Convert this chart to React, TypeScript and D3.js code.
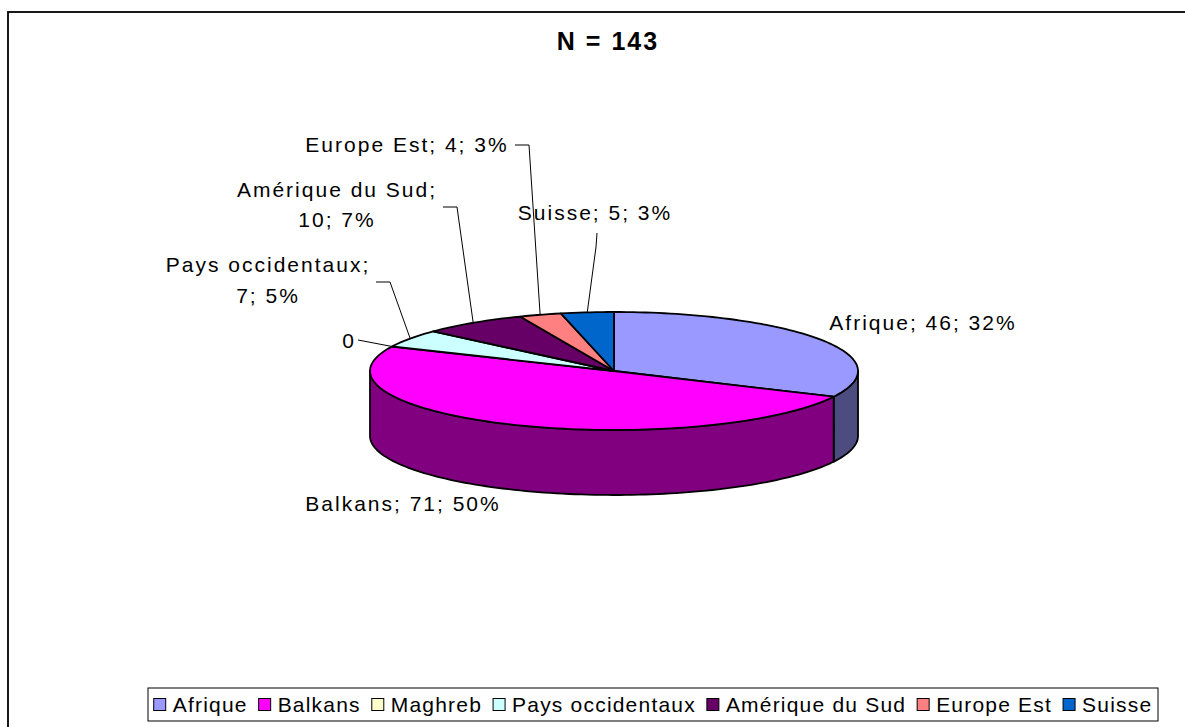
import { useEffect, useRef } from 'react';
import * as d3 from 'd3';

const categories = ['Afrique', 'Balkans', 'Maghreb', 'Pays occidentaux', 'Amérique du Sud', 'Europe Est', 'Suisse'];
const counts = [46, 71, 0, 7, 10, 4, 5];
const topColors = ['#9999FF', '#FF00FF', '#FFFFCC', '#CCFFFF', '#660066', '#FF8080', '#0066CC'];
const sideColors = ['#4C4C80', '#800080', '#808066', '#668080', '#330033', '#804040', '#003366'];
const title = 'N = 143';

// label placement (text centre, baselines, leader elbow)
const labelLayout = [
  { x: 923, y: [330], leader: null },
  { x: 403, y: [511], leader: null },
  { x: 349, y: [348], valueOnly: true, leader: [[358, 340]] },
  { x: 268, y: [272, 303], leader: [[376, 282], [390, 282]] },
  { x: 337, y: [197, 227], leader: [[443, 207], [457, 207]] },
  { x: 407, y: [152], leader: [[515, 145], [529, 145]] },
  { x: 595, y: [220], leader: [[597, 233], [596, 247]] },
];

const FONT = '"Liberation Sans", Arial, sans-serif';

export default function App() {
  const ref = useRef<SVGSVGElement>(null);

  useEffect(() => {
    if (!ref.current) return;
    const svg = d3.select(ref.current);
    svg.selectAll('*').remove();

    const total = d3.sum(counts);
    const cx = 614, cy = 371, rx = 244, ry = 59, depth = 65;
    const pt = (a: number, dy = 0): [number, number] => [cx + rx * Math.sin(a), cy - ry * Math.cos(a) + dy];
    const arcPts = (a0: number, a1: number, dy = 0) => {
      const n = Math.max(2, Math.ceil(((a1 - a0) / (Math.PI * 2)) * 240));
      return d3.range(n + 1).map(i => pt(a0 + ((a1 - a0) * i) / n, dy));
    };
    const line = d3.line();

    // outer frame
    svg.append('rect')
      .attr('x', 8).attr('y', 12).attr('width', 1200).attr('height', 740)
      .attr('fill', '#fff').attr('stroke', '#000').attr('stroke-width', 1.8);

    svg.append('text')
      .attr('x', 608).attr('y', 50)
      .attr('text-anchor', 'middle')
      .attr('font-family', FONT).attr('font-size', 25).attr('font-weight', 'bold')
      .attr('letter-spacing', 2)
      .text(title);

    const slices = d3.pie<number>().sort(null).value(d => d)(counts);

    // side walls (front half only)
    const g = svg.append('g').attr('stroke', '#000').attr('stroke-width', 1.8).attr('stroke-linejoin', 'round');
    slices.forEach((s, i) => {
      const a = Math.max(s.startAngle, Math.PI / 2);
      const b = Math.min(s.endAngle, (3 * Math.PI) / 2);
      if (a >= b) return;
      const pts = [...arcPts(a, b), ...arcPts(a, b, depth).reverse()];
      g.append('path').attr('d', line(pts) + 'Z').attr('fill', sideColors[i]);
    });

    // top faces
    slices.forEach((s, i) => {
      if (s.endAngle - s.startAngle <= 0) return;
      const pts: [number, number][] = [[cx, cy], ...arcPts(s.startAngle, s.endAngle)];
      g.append('path').attr('d', line(pts) + 'Z').attr('fill', topColors[i]);
    });

    // data labels
    const lg = svg.append('g').attr('font-family', FONT).attr('font-size', 21).attr('letter-spacing', 2).attr('fill', '#000');
    slices.forEach((s, i) => {
      const lay = labelLayout[i];
      const pct = Math.round((counts[i] / total) * 100) + '%';
      const lines = lay.valueOnly
        ? [String(counts[i])]
        : lay.y.length > 1
          ? [`${categories[i]};`, `${counts[i]}; ${pct}`]
          : [`${categories[i]}; ${counts[i]}; ${pct}`];
      lines.forEach((t, k) => {
        lg.append('text').attr('x', lay.x).attr('y', lay.y[k]).attr('text-anchor', 'middle').text(t);
      });
      if (lay.leader) {
        const mid = (s.startAngle + s.endAngle) / 2;
        const end = pt(mid);
        svg.append('path')
          .attr('d', line([...(lay.leader as [number, number][]), end]))
          .attr('fill', 'none').attr('stroke', '#000').attr('stroke-width', 1);
      }
    });

    // legend
    const box = { x: 148, y: 688, w: 1010, h: 33 };
    svg.append('rect')
      .attr('x', box.x).attr('y', box.y).attr('width', box.w).attr('height', box.h)
      .attr('fill', '#fff').attr('stroke', '#000').attr('stroke-width', 1);
    const leg = svg.append('g').attr('font-family', FONT).attr('font-size', 21).attr('letter-spacing', 1.2);
    const sq = 12, gapIn = 7, gapOut = 11;
    const items = categories.map((c, i) => {
      const it = leg.append('g');
      it.append('rect').attr('width', sq).attr('height', sq).attr('y', -sq / 2)
        .attr('fill', topColors[i]).attr('stroke', '#000').attr('stroke-width', 1);
      const t = it.append('text').attr('x', sq + gapIn).attr('y', 7.5).text(c);
      const w = (t.node() as SVGTextElement).getComputedTextLength();
      return { it, w: sq + gapIn + w };
    });
    const totalW = d3.sum(items, d => d.w) + gapOut * (items.length - 1);
    let x = box.x + (box.w - totalW) / 2;
    items.forEach(d => {
      d.it.attr('transform', `translate(${x},${box.y + box.h / 2})`);
      x += d.w + gapOut;
    });
  }, []);

  return (
    <div style={{ position: 'absolute', left: 0, top: 0 }}>
      <svg ref={ref} width={1185} height={727} style={{ display: 'block' }} />
    </div>
  );
}
